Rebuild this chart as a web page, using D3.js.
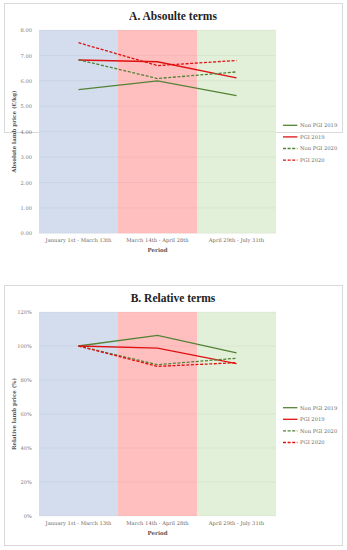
<!DOCTYPE html>
<html><head><meta charset="utf-8">
<script src="https://cdn.jsdelivr.net/npm/d3@7"></script>
<style>body{margin:0;background:#fff}svg{display:block}</style>
</head><body>
<script>
const categories = ["January 1st - March 13th", "March 14th - April 28th", "April 29th - July 31th"];
const seriesNames = ["Non PGI 2019", "PGI 2019", "Non PGI 2020", "PGI 2020"];
const absNonPGI2019 = [5.65, 6.00, 5.42];
const absPGI2019 = [6.82, 6.75, 6.12];
const absNonPGI2020 = [6.83, 6.09, 6.35];
const absPGI2020 = [7.50, 6.60, 6.80];
const relNonPGI2019 = [100, 106.2, 96.0];
const relPGI2019 = [100, 98.7, 89.6];
const relNonPGI2020 = [100, 89.0, 92.8];
const relPGI2020 = [100, 88.0, 90.2];
const absTicks = [0, 1, 2, 3, 4, 5, 6, 7, 8];
const relTicks = [0, 20, 40, 60, 80, 100, 120];

const W = 347, H = 550;
const svg = d3.select("body").append("svg").attr("width", W).attr("height", H)
  .style("font-family", "'DejaVu Serif', serif");
const bandColors = ["#d3ddee", "#ffbfbf", "#e2f0d9"];
const lineColors = ["#548235", "#e01010", "#548235", "#e01010"];
const dashes = [null, null, "3,1.6", "3,1.6"];

function panel(o) {
  const g = svg.append("g");
  g.append("rect").attr("x", 4.5).attr("y", o.top).attr("width", 338).attr("height", o.height)
    .attr("fill", "#fff").attr("stroke", "#d9d9d9").attr("stroke-width", 1);
  g.append("text").attr("x", 173).attr("y", o.top + o.titleDy).attr("text-anchor", "middle")
    .style("font-family", "'Liberation Serif', serif")
    .attr("font-size", 11.5).attr("font-weight", "bold").attr("fill", "#222").text(o.title);
  const x = d3.scaleBand().domain(categories).range([39, 276]).paddingInner(0).paddingOuter(0);
  const y = d3.scaleLinear().domain(o.domain).range([o.y1, o.y0]);
  categories.forEach((c, i) => {
    g.append("rect").attr("x", x(c)).attr("y", o.y0).attr("width", x.bandwidth()).attr("height", o.y1 - o.y0)
      .attr("fill", bandColors[i]);
  });
  g.append("g").selectAll("line").data(o.ticks).join("line")
    .attr("x1", 39).attr("x2", 276).attr("y1", d => y(d)).attr("y2", d => y(d))
    .attr("stroke", "#000").attr("stroke-opacity", 0.06).attr("stroke-width", 0.8);
  const ya = g.append("g").attr("transform", "translate(33,0)")
    .call(d3.axisLeft(y).tickValues(o.ticks).tickSize(0).tickFormat(o.fmt));
  ya.select(".domain").remove();
  ya.attr("font-family", null);
  ya.selectAll("text").attr("font-size", 5.2).attr("fill", "#777").attr("x", -1);
  const xa = g.append("g").attr("transform", `translate(0,${o.y1})`)
    .call(d3.axisBottom(x).tickSize(0));
  xa.select(".domain").remove();
  xa.attr("font-family", null);
  xa.selectAll("text").attr("font-size", 5.2).attr("fill", "#666").attr("dy", 0).attr("y", o.xLabDy);
  g.append("text").attr("x", 157.5).attr("y", o.y1 + o.xTitleDy).attr("text-anchor", "middle")
    .attr("font-size", 5.5).attr("font-weight", "bold").attr("fill", "#555").text("Period");
  g.append("text").attr("transform", `translate(16,${(o.y0 + o.y1) / 2}) rotate(-90)`)
    .attr("text-anchor", "middle").attr("font-size", 5.5).attr("font-weight", "bold").attr("fill", "#555").text(o.yTitle);
  const line = d3.line().x((d, i) => x(categories[i]) + x.bandwidth() / 2).y(d => y(d));
  o.series.forEach((s, i) => {
    g.append("path").datum(s).attr("d", line).attr("fill", "none")
      .attr("stroke", lineColors[i]).attr("stroke-width", 1.3)
      .attr("stroke-dasharray", dashes[i]);
  });
  seriesNames.forEach((n, i) => {
    const ly = o.legY + i * 11.6;
    g.append("line").attr("x1", 283).attr("x2", 297.4).attr("y1", ly).attr("y2", ly)
      .attr("stroke", lineColors[i]).attr("stroke-width", 1.3).attr("stroke-dasharray", dashes[i]);
    g.append("text").attr("x", 300).attr("y", ly + 1.8).attr("font-size", 5.2).attr("fill", "#666").text(n);
  });
}

panel({top: 3.5, height: 129, titleDy: 16, title: "A. Absoulte terms", domain: [0, 8], y0: 30, y1: 233.3,
  ticks: absTicks, fmt: d3.format(".2f"), xLabDy: 9, xTitleDy: 19, yTitle: "Absolute lamb price (€/kg)",
  series: [absNonPGI2019, absPGI2019, absNonPGI2020, absPGI2020], legY: 125.3});
panel({top: 285.5, height: 260, titleDy: 16, title: "B. Relative terms", domain: [0, 120], y0: 312, y1: 516,
  ticks: relTicks, fmt: d => d + "%", xLabDy: 9, xTitleDy: 19, yTitle: "Relative lamb price (%)",
  series: [relNonPGI2019, relPGI2019, relNonPGI2020, relPGI2020], legY: 407.7});
</script>
</body></html>
